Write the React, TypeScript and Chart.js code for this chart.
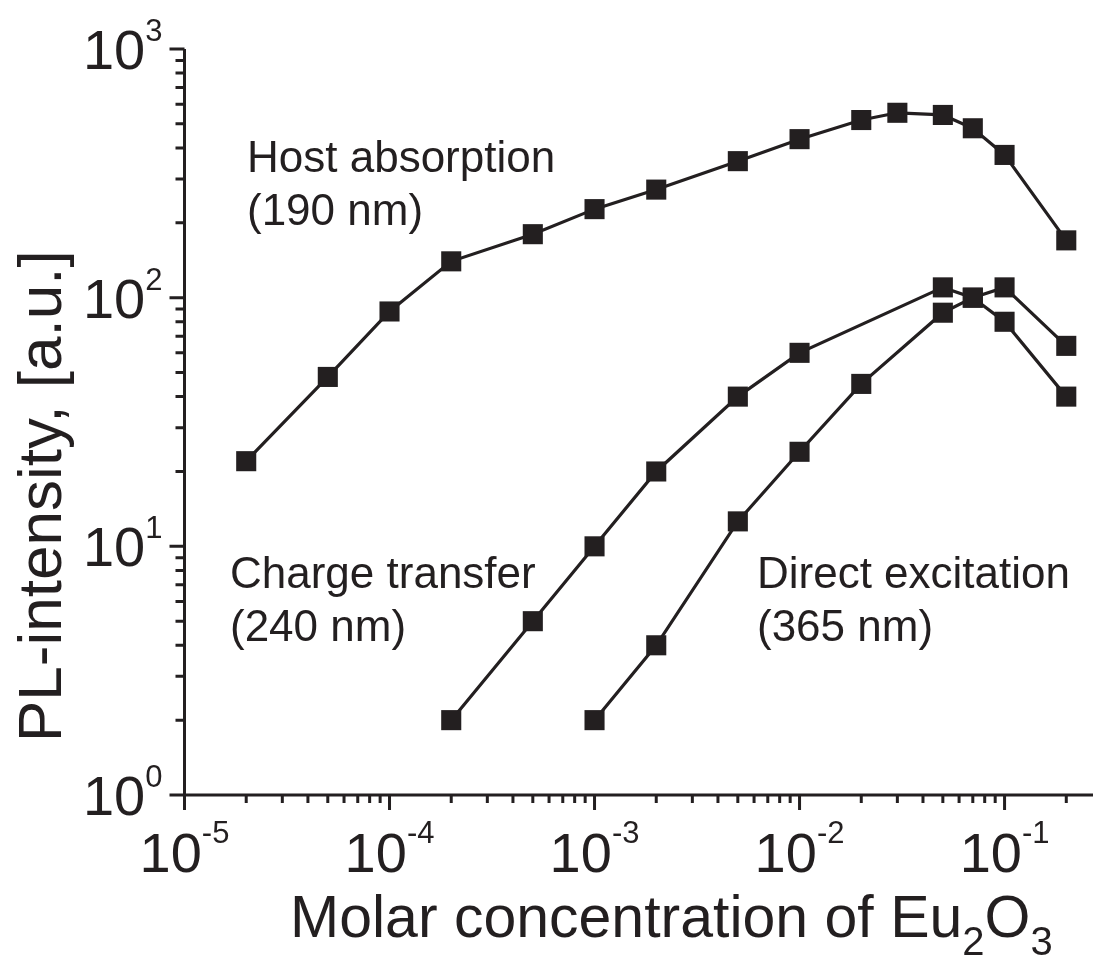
import React, { useEffect, useRef } from 'react';
import { Chart, registerables } from 'chart.js';

Chart.register(...registerables);

// ---- data ----
const hostX = [2e-5, 5e-5, 1e-4, 2e-4, 5e-4, 1e-3, 2e-3, 5e-3, 1e-2, 2e-2, 3e-2, 5e-2, 7e-2, 1e-1, 2e-1];
const hostY = [22, 48, 88, 140, 180, 227, 272, 354, 434, 518, 554, 543, 480, 375, 170];

const chargeX = [2e-4, 5e-4, 1e-3, 2e-3, 5e-3, 1e-2, 5e-2, 7e-2, 1e-1, 2e-1];
const chargeY = [2, 5, 10, 20, 40, 60, 110, 100, 80, 40];

const directX = [1e-3, 2e-3, 5e-3, 1e-2, 2e-2, 5e-2, 7e-2, 1e-1, 2e-1];
const directY = [2, 4, 12.6, 24, 45, 87, 100, 110, 64];

const xTickExponents = [-5, -4, -3, -2, -1];
const yTickExponents = [0, 1, 2, 3];

const X_MIN = 1e-5;
const X_MAX = 0.27;
const Y_MIN = 1;
const Y_MAX = 1000;

const annotations = [
  { lines: ['Host absorption', '(190 nm)'], x: 247, y: 172 },
  { lines: ['Charge transfer', '(240 nm)'], x: 230, y: 588 },
  { lines: ['Direct excitation', '(365 nm)'], x: 757, y: 588 },
];

const INK = '#231f20';
const FONT = '"Liberation Sans", Arial, Helvetica, sans-serif';

function toPoints(xs: number[], ys: number[]) {
  return xs.map((x, i) => ({ x, y: ys[i] }));
}

const decorPlugin = {
  id: 'decor',
  afterDraw(chart: any) {
    const ctx: CanvasRenderingContext2D = chart.ctx;
    const xs = chart.scales.x;
    const ys = chart.scales.y;
    const area = chart.chartArea;
    ctx.save();
    ctx.strokeStyle = INK;
    ctx.fillStyle = INK;
    ctx.lineWidth = 3;
    ctx.lineCap = 'butt';

    // axis lines
    ctx.beginPath();
    ctx.moveTo(area.left, area.top);
    ctx.lineTo(area.left, area.bottom);
    ctx.moveTo(area.left - 1.5, area.bottom);
    ctx.lineTo(area.right, area.bottom);
    ctx.stroke();

    // x ticks
    ctx.beginPath();
    for (let e = -5; e <= 0; e++) {
      for (let m = 1; m <= 9; m++) {
        const v = m * Math.pow(10, e);
        if (v < X_MIN * 0.999 || v > X_MAX * 1.001) continue;
        const px = xs.getPixelForValue(v);
        const len = m === 1 ? 15 : 8;
        ctx.moveTo(px, area.bottom);
        ctx.lineTo(px, area.bottom + len);
      }
    }
    // y ticks
    for (let e = 0; e <= 3; e++) {
      for (let m = 1; m <= 9; m++) {
        const v = m * Math.pow(10, e);
        if (v < Y_MIN * 0.999 || v > Y_MAX * 1.001) continue;
        const py = ys.getPixelForValue(v);
        const len = m === 1 ? 15 : 9;
        ctx.moveTo(area.left, py);
        ctx.lineTo(area.left - len, py);
      }
    }
    ctx.stroke();

    const baseFont = `56px ${FONT}`;
    const expFont = `31px ${FONT}`;
    ctx.textBaseline = 'alphabetic';
    ctx.textAlign = 'left';

    // x tick labels
    xTickExponents.forEach((e) => {
      const px = xs.getPixelForValue(Math.pow(10, e));
      ctx.font = baseFont;
      const wb = ctx.measureText('10').width;
      ctx.font = expFont;
      const es = String(e);
      const we = ctx.measureText(es).width;
      const left = px - (wb + we) / 2;
      ctx.font = baseFont;
      ctx.fillText('10', left, 872);
      ctx.font = expFont;
      ctx.fillText(es, left + wb, 843);
    });

    // y tick labels
    yTickExponents.forEach((e) => {
      const py = ys.getPixelForValue(Math.pow(10, e));
      ctx.font = expFont;
      const es = String(e);
      const we = ctx.measureText(es).width;
      ctx.font = baseFont;
      const wb = ctx.measureText('10').width;
      const right = area.left - 22;
      ctx.fillText('10', right - we - wb, py + 20);
      ctx.font = expFont;
      ctx.fillText(es, right - we, py - 8);
    });

    // x title with subscripts
    const tFont = `59px ${FONT}`;
    const sFont = `40px ${FONT}`;
    let tx = 290;
    const tb = 937;
    const parts: [string, boolean][] = [
      ['Molar concentration of Eu', false],
      ['2', true],
      ['O', false],
      ['3', true],
    ];
    parts.forEach(([s, sub]) => {
      ctx.font = sub ? sFont : tFont;
      ctx.fillText(s, tx, sub ? tb + 18 : tb);
      tx += ctx.measureText(s).width;
    });

    // y title
    ctx.save();
    ctx.translate(61, 742);
    ctx.rotate(-Math.PI / 2);
    ctx.font = `62px ${FONT}`;
    ctx.fillText('PL-intensity, [a.u.]', 0, 0);
    ctx.restore();

    // annotations
    ctx.font = `44px ${FONT}`;
    annotations.forEach((a) => {
      a.lines.forEach((l, i) => ctx.fillText(l, a.x, a.y + i * 53));
    });

    ctx.restore();
  },
};

export default function App() {
  const ref = useRef<HTMLCanvasElement | null>(null);

  useEffect(() => {
    document.body.style.margin = '0';
    const canvas = ref.current;
    if (!canvas) return;
    const common = {
      borderColor: INK,
      borderWidth: 3.2,
      pointStyle: 'rect',
      pointRadius: 14.2,
      pointHoverRadius: 14.2,
      pointBackgroundColor: INK,
      pointBorderColor: INK,
      pointBorderWidth: 0,
      tension: 0,
      fill: false,
      showLine: true,
      clip: false,
    };
    const chart = new Chart(canvas, {
      type: 'line',
      data: {
        datasets: [
          { label: 'Host absorption (190 nm)', data: toPoints(hostX, hostY), ...common },
          { label: 'Charge transfer (240 nm)', data: toPoints(chargeX, chargeY), ...common },
          { label: 'Direct excitation (365 nm)', data: toPoints(directX, directY), ...common },
        ],
      } as any,
      options: {
        animation: false,
        responsive: false,
        maintainAspectRatio: false,
        devicePixelRatio: 1,
        layout: { autoPadding: false, padding: { left: 184.5, right: 4, top: 49, bottom: 165 } },
        plugins: { legend: { display: false }, tooltip: { enabled: false } },
        events: [],
        scales: {
          x: { type: 'logarithmic', min: X_MIN, max: X_MAX, display: false },
          y: { type: 'logarithmic', min: Y_MIN, max: Y_MAX, display: false },
        },
        elements: { line: { borderJoinStyle: 'miter' } },
      } as any,
      plugins: [decorPlugin],
    });
    return () => chart.destroy();
  }, []);

  return <canvas ref={ref} width={1097} height={960} style={{ display: 'block', width: 1097, height: 960 }} />;
}
